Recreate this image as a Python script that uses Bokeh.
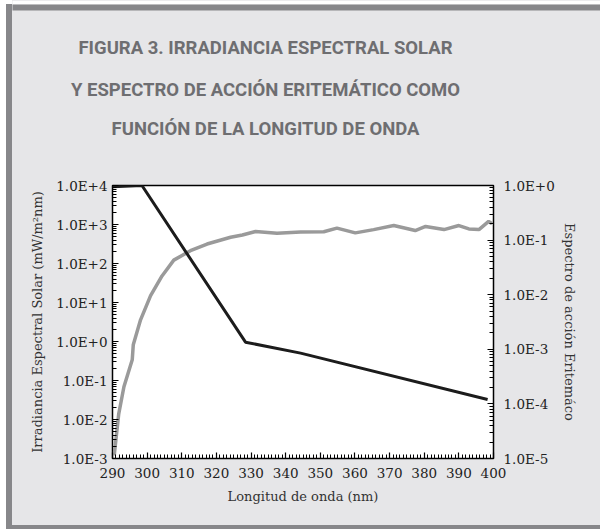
from bokeh.plotting import figure
from bokeh.models import (Range1d, LogScale, LinearAxis, LogAxis, FixedTicker,
                          SingleIntervalTicker, CustomJSTickFormatter, Div)
from bokeh.layouts import column, row
from bokeh.core.properties import value
from bokeh.embed import file_html
from bokeh.resources import INLINE

# ---- data ----
# Solar spectral irradiance (left axis, mW/m2nm)
solar_wl = [290.5, 291.8, 293.3, 295.7, 296.0, 298.1, 301.0, 304.3, 307.7, 312.5,
            317.3, 324.1, 327.5, 331.3, 337.5, 344.3, 351.0, 354.8, 360.1, 365.4,
            371.2, 377.4, 380.4, 385.7, 390.0, 392.9, 395.8, 398.6, 399.6]
solar_val = [1.2e-3, 1.4e-2, 6.9e-2, 3.4e-1, 8.3e-1, 3.6, 15, 48, 122, 213,
             316, 470, 540, 660, 600, 640, 650, 810, 610, 740,
             940, 700, 890, 740, 940, 770, 740, 1200, 1050]
# Erythemal action spectrum (right axis)
ery_wl = [290.0, 298.5, 328.4, 344.3, 398.3]
ery_val = [0.95, 1.0, 1.35e-3, 8.5e-4, 1.2e-4]

left_ticks = [1e-3, 1e-2, 1e-1, 1e0, 1e1, 1e2, 1e3, 1e4]
right_ticks = [1e-5, 1e-4, 1e-3, 1e-2, 1e-1, 1e0]

title_lines = ["FIGURA 3. IRRADIANCIA ESPECTRAL SOLAR",
               "Y ESPECTRO DE ACCIÓN ERITEMÁTICO COMO",
               "FUNCIÓN DE LA LONGITUD DE ONDA"]
x_label = "Longitud de onda (nm)"
y_label = "Irradiancia Espectral Solar (mW/m²nm)"
y2_label = "Espectro de acción Eritemáco"

BG = "#e6e6e8"
BAND = "#87878a"
W, H = 600, 529
LEFT_W = 12                           # white strip + left band
TOP_H = 150                           # height of the title strip
BOT_H = 4                             # bottom band
FL, FR, FT, FB = 112, 493, 185, 458   # frame edges in page pixels
SERIF = "DejaVu Serif"
CW = W - LEFT_W                       # width of the chart column

# ---------- left band ----------
band_css = ("linear-gradient(white, white) 0 0 / 100% 4px no-repeat, "
            "linear-gradient(to right, white 6px, " + BAND + " 6px)")
left_band = Div(text="", width=LEFT_W, height=H, margin=0,
                styles={"background": band_css})

# ---------- title strip ----------
t = figure(width=CW, height=TOP_H, output_backend="svg", toolbar_location=None,
           x_range=Range1d(LEFT_W, W), y_range=Range1d(TOP_H, 0),
           x_axis_type=None, y_axis_type=None,
           min_border_left=0, min_border_right=0, min_border_top=0, min_border_bottom=0)
t.frame_align = False
t.background_fill_color = BG
t.border_fill_color = BG
t.outline_line_color = None
t.xgrid.visible = False
t.ygrid.visible = False
t.quad(left=[0], right=[W], top=[0], bottom=[4], fill_color="white", line_color=None)
t.quad(left=[0], right=[W], top=[4], bottom=[10], fill_color=BAND, line_color=None)
t.text(x=[265, 265, 265], y=[47, 89, 128], text=title_lines,
       text_align="center", text_baseline="alphabetic",
       text_font=value("Roboto"), text_font_style="bold",
       text_font_size=value("18.5px"), text_color="#6e6e71")

# ---------- main chart ----------
p = figure(width=CW, height=H - TOP_H - BOT_H, output_backend="svg", toolbar_location=None,
           x_range=Range1d(290, 400), y_range=Range1d(1e-3, 1e4),
           y_axis_type="log", x_axis_type=None, y_axis_location=None,
           min_border_left=FL - LEFT_W, min_border_right=W - FR, min_border_top=FT - TOP_H,
           min_border_bottom=H - BOT_H - FB)
p.frame_align = False
p.border_fill_color = BG
p.background_fill_color = "white"
p.outline_line_color = "black"
p.outline_line_width = 1.5
p.xgrid.visible = False
p.ygrid.visible = False

p.extra_y_ranges = {"right": Range1d(1e-5, 1.0)}
p.extra_y_scales = {"right": LogScale()}

fmt = CustomJSTickFormatter(code="""
const e = Math.round(Math.log10(tick));
return "1.0E" + (e >= 0 ? "+" : "-") + Math.abs(e);
""")

def minors(lo, hi):
    out = []
    for e in range(lo, hi):
        for k in range(2, 10):
            out.append(k * 10.0 ** e)
    return out

def style_axis(ax):
    ax.axis_line_color = None
    ax.major_tick_in = 6
    ax.major_tick_out = 0
    ax.minor_tick_in = 4
    ax.minor_tick_out = 0
    ax.major_tick_line_color = "black"
    ax.minor_tick_line_color = "black"
    ax.major_tick_line_width = 1.2
    ax.minor_tick_line_width = 1
    ax.major_label_text_font = SERIF
    ax.major_label_text_font_size = "13.5px"
    ax.major_label_text_color = "#222222"
    ax.axis_label_text_font = SERIF
    ax.axis_label_text_font_size = "13px"
    ax.axis_label_text_font_style = "normal"
    ax.axis_label_text_color = "#333333"

yl = LogAxis(ticker=FixedTicker(ticks=left_ticks, minor_ticks=minors(-3, 4)),
             formatter=fmt, axis_label=y_label)
style_axis(yl)
yl.major_label_standoff = 5
yl.axis_label_standoff = 8
p.add_layout(yl, "left")

yr = LogAxis(y_range_name="right",
             ticker=FixedTicker(ticks=right_ticks, minor_ticks=minors(-5, 0)),
             formatter=fmt, axis_label=y2_label)
style_axis(yr)
yr.major_label_standoff = 10
yr.axis_label_standoff = 4
p.add_layout(yr, "right")

xa = LinearAxis(ticker=SingleIntervalTicker(interval=10, num_minor_ticks=10),
                axis_label=x_label)
style_axis(xa)
xa.major_label_standoff = 9
xa.axis_label_standoff = 8
p.add_layout(xa, "below")

p.line(solar_wl, solar_val, line_color="#9a9a9a", line_width=3.5)
p.line(ery_wl, ery_val, line_color="#1c1c1c", line_width=3, y_range_name="right")

# ---------- bottom band ----------
bottom_band = Div(text="", width=CW, height=BOT_H, margin=0,
                  styles={"background-color": BAND})

chart_col = column(t, p, bottom_band, spacing=0, styles={"background-color": BG})
layout = row(left_band, chart_col, spacing=0)
open("out.html", "w").write(file_html(layout, INLINE))
